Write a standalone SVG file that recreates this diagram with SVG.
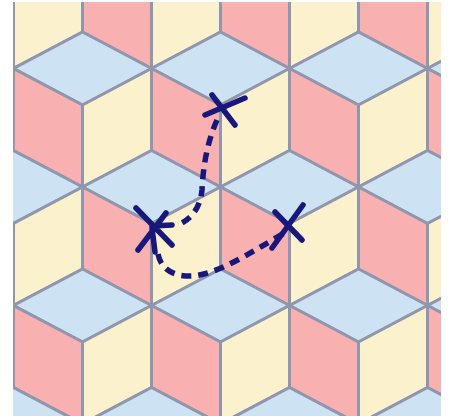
<svg xmlns="http://www.w3.org/2000/svg" xmlns:xlink="http://www.w3.org/1999/xlink" width="449" height="416" viewBox="0 0 449 416">
<style>
.t{fill:#cde3f3}.l{fill:#f8b0b1}.r{fill:#fbf2cd}
.f polygon{stroke:#8f96ad;stroke-width:3;stroke-linejoin:round}
.mk{fill:none;stroke:#17177c;stroke-width:5.5;stroke-linecap:round}
.dash{fill:none;stroke:#17177c;stroke-width:5.5;stroke-dasharray:10 7;stroke-linecap:butt}
</style>
<defs>
<clipPath id="clip"><rect x="13" y="2" width="428" height="414"/></clipPath>
<g id="cube" class="f">
<polygon class="t" points="0,-73 69,-36.5 0,0 -69,-36.5"/>
<polygon class="l" points="-69,-36.5 0,0 0,82 -69,45.5"/>
<polygon class="r" points="0,0 69,-36.5 69,45.5 0,82"/>
</g>
</defs>
<rect width="449" height="416" fill="#ffffff"/>
<g id="tiling" clip-path="url(#clip)">
<use xlink:href="#cube" x="13.5" y="-13.5"/>
<use xlink:href="#cube" x="151.5" y="-13.5"/>
<use xlink:href="#cube" x="289.5" y="-13.5"/>
<use xlink:href="#cube" x="427.5" y="-13.5"/>
<use xlink:href="#cube" x="-55.5" y="105"/>
<use xlink:href="#cube" x="82.5" y="105"/>
<use xlink:href="#cube" x="220.5" y="105"/>
<use xlink:href="#cube" x="358.5" y="105"/>
<use xlink:href="#cube" x="496.5" y="105"/>
<use xlink:href="#cube" x="13.5" y="223.5"/>
<use xlink:href="#cube" x="151.5" y="223.5"/>
<use xlink:href="#cube" x="289.5" y="223.5"/>
<use xlink:href="#cube" x="427.5" y="223.5"/>
<use xlink:href="#cube" x="-55.5" y="342"/>
<use xlink:href="#cube" x="82.5" y="342"/>
<use xlink:href="#cube" x="220.5" y="342"/>
<use xlink:href="#cube" x="358.5" y="342"/>
<use xlink:href="#cube" x="496.5" y="342"/>
<use xlink:href="#cube" x="13.5" y="460.5"/>
<use xlink:href="#cube" x="151.5" y="460.5"/>
<use xlink:href="#cube" x="289.5" y="460.5"/>
<use xlink:href="#cube" x="427.5" y="460.5"/>
</g>
<g id="connectors">
<path class="dash" d="M217,120 C206,145 203,170 202,190 C200,208 192,219 176,226"/>
<path class="dash" d="M158,254 C161,269 173,277 193,276 C216,274 246,256 284,233"/>
</g>
<g id="marker-top">
<path class="mk" d="M212,95 L235,125 M205,115 L245,98"/>
</g>
<g id="marker-left">
<path class="mk" d="M136,208 L172,245 M138,250 L166,213 M152,226 L172,225 M152,228 L155,252"/>
</g>
<g id="marker-right">
<path class="mk" d="M275,212 L302,240 M272,248 L303,205"/>
</g>
</svg>
